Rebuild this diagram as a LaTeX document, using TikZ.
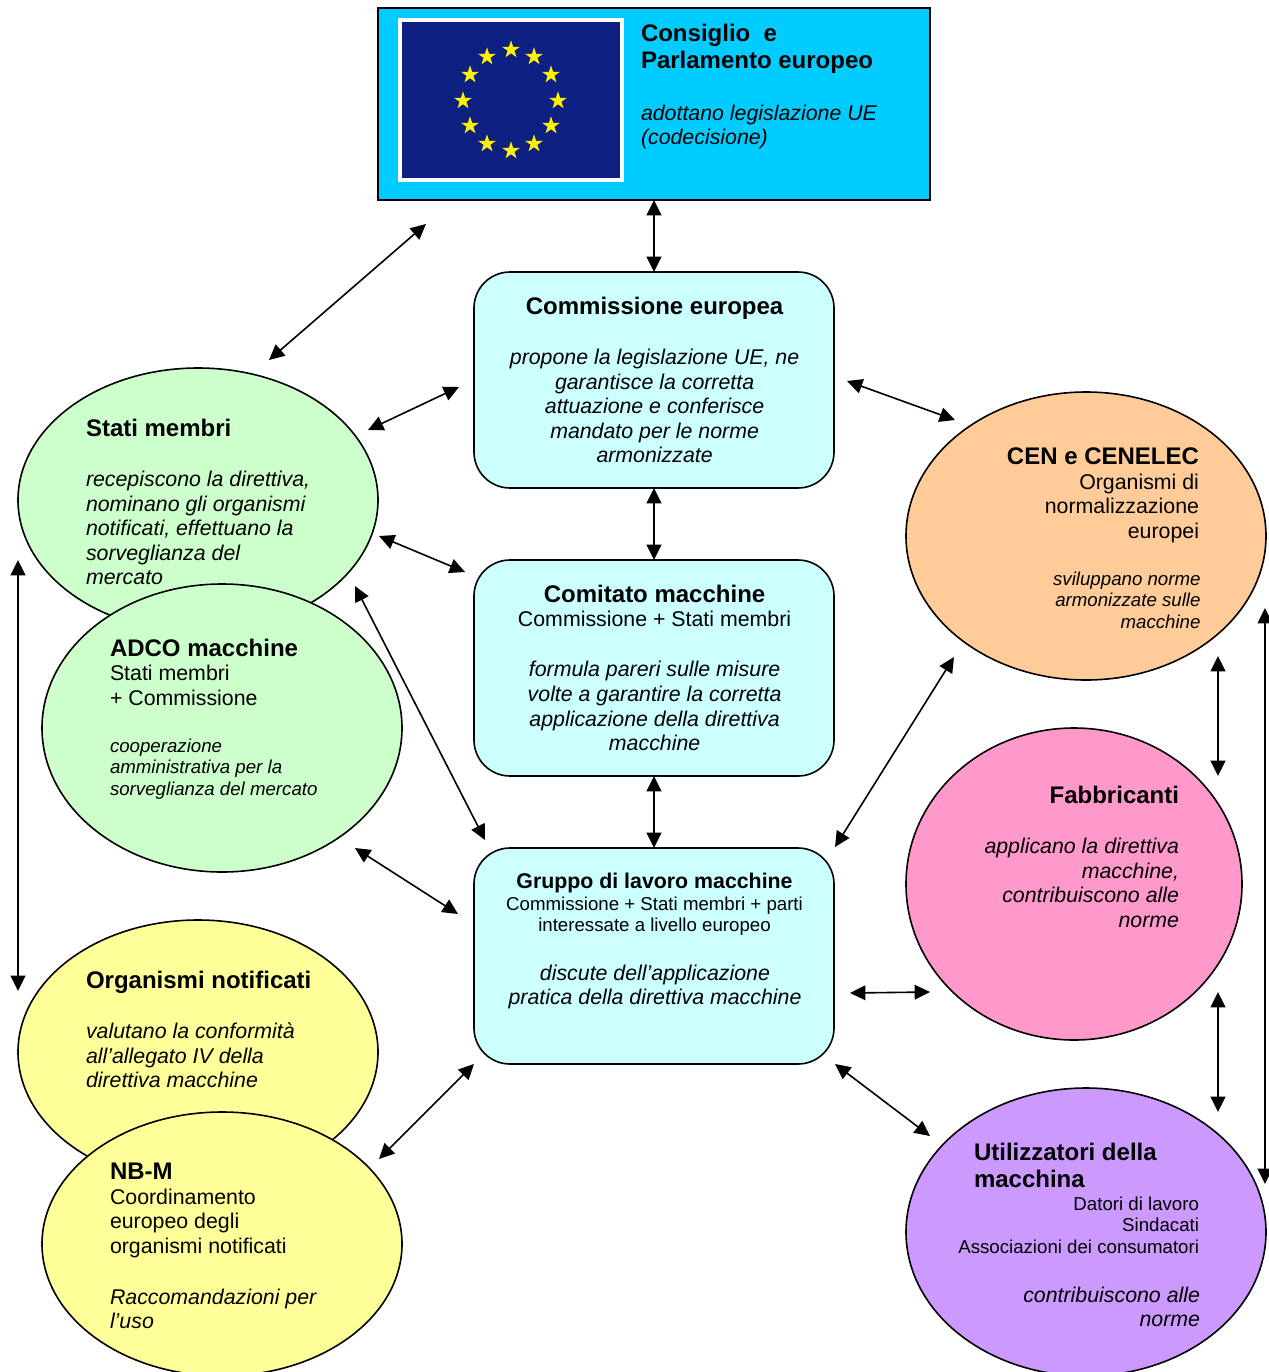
\documentclass[tikz,border=0pt]{standalone}
\usepackage{fontspec}
\setmainfont{Liberation Sans}
\usetikzlibrary{arrows.meta,shapes.geometric}
\newcommand{\firstl}{\rule{0pt}{12pt}}
\newcommand{\ttl}[1]{{\fontsize{18}{18.4}\selectfont\bfseries #1}}
\tikzset{
 every node/.style={inner sep=0pt,outer sep=0pt},
 shp/.style={draw=black,line width=1.2pt},
 elly/.style={shp,ellipse,minimum width=270pt,minimum height=#1},
 rbox/.style={shp,rectangle,rounded corners=27pt,minimum width=270pt,minimum height=162pt,fill=boxcy},
 link/.style={line width=1.2pt,{Triangle[length=11.5pt,width=11pt]}-{Triangle[length=11.5pt,width=11pt]}},
 linkb/.style={link,line width=1.7pt},
 big/.style={font=\fontsize{16}{18.4}\selectfont},
 sub/.style={font=\fontsize{14}{16.15}\selectfont},
 lt/.style={anchor=north west,align=left},
 rt/.style={anchor=north east,align=right},
 ct/.style={anchor=north,align=center},
}
\definecolor{topc}{HTML}{00CCFF}
\definecolor{flagb}{HTML}{0F2083}
\definecolor{boxcy}{HTML}{CCFFFF}
\definecolor{grn}{HTML}{CCFFCC}
\definecolor{yel}{HTML}{FFFF99}
\definecolor{org}{HTML}{FFCC99}
\definecolor{pnk}{HTML}{FF99CC}
\definecolor{prp}{HTML}{CC99FF}
\begin{document}
\begin{tikzpicture}[x=0.75pt,y=-0.75pt]
\useasboundingbox (0,0) rectangle (1269,1372);
% top box
\node[shp,fill=topc,minimum width=414pt,minimum height=144pt] (top) at (654,104) {};
\node[fill=white,minimum width=169.5pt,minimum height=123pt] (flagw) at (511,100) {};
\node[fill=flagb,minimum width=163.5pt,minimum height=117pt] (flag) at (511,100) {};
\foreach \sx/\sy [count=\i] in {511/49,534/56,551/74,558/100,551/125,534/143,511/150,487/143,470/125,463/100,470/74,487/56}
  \node[star,star points=5,star point ratio=2.618,fill=yellow,minimum size=14pt] (s\i) at (\sx,\sy+0.7) {};
\node[lt,big] (t1) at (641,24) {\firstl\ttl{Consiglio\ \ e}\\[1.6pt]\ttl{Parlamento europeo}\\[20.6pt]\textit{adottano legislazione UE}\\\textit{(codecisione)}};
% central boxes
\node[rbox] (comm) at (654,380) {};
\node[ct,big] (t2) at (654.6,297) {\firstl\ttl{Commissione europea}\\[19.25pt]\textit{propone la legislazione UE, ne}\\\textit{garantisce la corretta}\\\textit{attuazione e conferisce}\\\textit{mandato per le norme}\\\textit{armonizzate}};
\node[rbox] (comi) at (654,668) {};
\node[ct,big] (t3) at (654.6,585) {\firstl\ttl{Comitato macchine}\\Commissione + Stati membri\\[19.1pt]\textit{formula pareri sulle misure}\\\textit{volte a garantire la corretta}\\\textit{applicazione della direttiva}\\\textit{macchine}};
\node[rbox] (grup) at (654,956) {};
\node[ct,font=\fontsize{16}{18.4}\selectfont] (t4a) at (654.5,872) {\firstl\textbf{Gruppo di lavoro macchine}};
\node[ct,sub] (t4b) at (654.5,894) {\firstl Commissione + Stati membri + parti\\interessate a livello europeo};
\node[ct,big] (t4c) at (655,964) {\firstl\textit{discute dell’applicazione}\\\textit{pratica della direttiva macchine}};
% left ellipses
\node[elly=198pt,fill=grn] (stati) at (198,500) {};
\node[lt,big] (t5) at (86,419) {\firstl\ttl{Stati membri}\\[19.15pt]\textit{recepiscono la direttiva,}\\\textit{nominano gli organismi}\\\textit{notificati, effettuano la}\\\textit{sorveglianza del}\\\textit{mercato}};
\node[elly=216pt,fill=grn] (adco) at (222,728) {};
\node[lt,big] (t6) at (110,639) {\firstl\ttl{ADCO macchine}\\Stati membri\\+ Commissione};
\node[lt,sub] (t6b) at (110,736) {\firstl\textit{cooperazione}\\\textit{amministrativa per la}\\\textit{sorveglianza del mercato}};
\node[elly=198pt,fill=yel] (orga) at (198,1052) {};
\node[lt,big] (t7) at (86,971) {\firstl\ttl{Organismi notificati}\\[19.15pt]\textit{valutano la conformità}\\\textit{all’allegato IV della}\\\textit{direttiva macchine}};
\node[elly=198pt,fill=yel] (nbm) at (222,1244) {};
\node[lt,big] (t8) at (110,1163) {\firstl\ttl{NB-M}\\Coordinamento\\europeo degli\\organismi notificati\\[19.85pt]\textit{Raccomandazioni per}\\\textit{l’uso}};
% right ellipses
\node[elly=216pt,fill=org] (cen) at (1086,536) {};
\node[rt,big] (t9) at (1199,448) {\firstl\ttl{CEN e CENELEC}\\Organismi di\\normalizzazione\\europei};
\node[rt,sub] (t9b) at (1200.5,569) {\firstl\textit{sviluppano norme}\\\textit{armonizzate sulle}\\\textit{macchine}};
\node[shp,ellipse,minimum width=252pt,minimum height=234pt,fill=pnk] (fabb) at (1074,884) {};
\node[rt,big] (t10) at (1179,786) {\firstl\ttl{Fabbricanti}\\[19.25pt]\textit{applicano la direttiva}\\\textit{macchine,}\\\textit{contribuiscono alle}\\\textit{norme}};
\node[elly=216pt,fill=prp] (util) at (1086,1232) {};
\node[lt,big] (t11) at (974,1143) {\firstl\ttl{Utilizzatori della}\\[2.2pt]\ttl{macchina}};
\node[rt,sub] (t11b) at (1199,1194) {\firstl Datori di lavoro\\Sindacati\\Associazioni dei consumatori};
\node[rt,big] (t11c) at (1200,1286) {\firstl\textit{contribuiscono alle}\\\textit{norme}};
% connector ends
\foreach \n/\cx/\cy in {a/426/224,b/269/360,c/368/430,d/459/387,e/379/536,f/465/572,g/355/586,h/485/840,i/355/848,j/458/914,k/379/1159,l/474/1064,m/18/560,n/18/991,o/847/381,p/955/420,q/835/847,r/954/657,s/850/993,t/930/992,u/835/1064,v/930/1136,w/1218/656,x/1218/776,y/1218/992,z/1218/1112,aa/1265/608,ab/1265/1184}
  \coordinate (\n) at (\cx,\cy);
% connectors
\draw[linkb] (top.south) -- (comm.north);
\draw[linkb] (comm.south) -- (comi.north);
\draw[linkb] (comi.south) -- (grup.north);
\draw[link] (a) -- (b);
\draw[link] (c) -- (d);
\draw[link] (e) -- (f);
\draw[link] (g) -- (h);
\draw[link] (i) -- (j);
\draw[link] (k) -- (l);
\draw[link] (m) -- (n);
\draw[link] (o) -- (p);
\draw[link] (q) -- (r);
\draw[link] (s) -- (t);
\draw[link] (u) -- (v);
\draw[link] (w) -- (x);
\draw[link] (y) -- (z);
\draw[link] (aa) -- (ab);
\end{tikzpicture}
\end{document}
